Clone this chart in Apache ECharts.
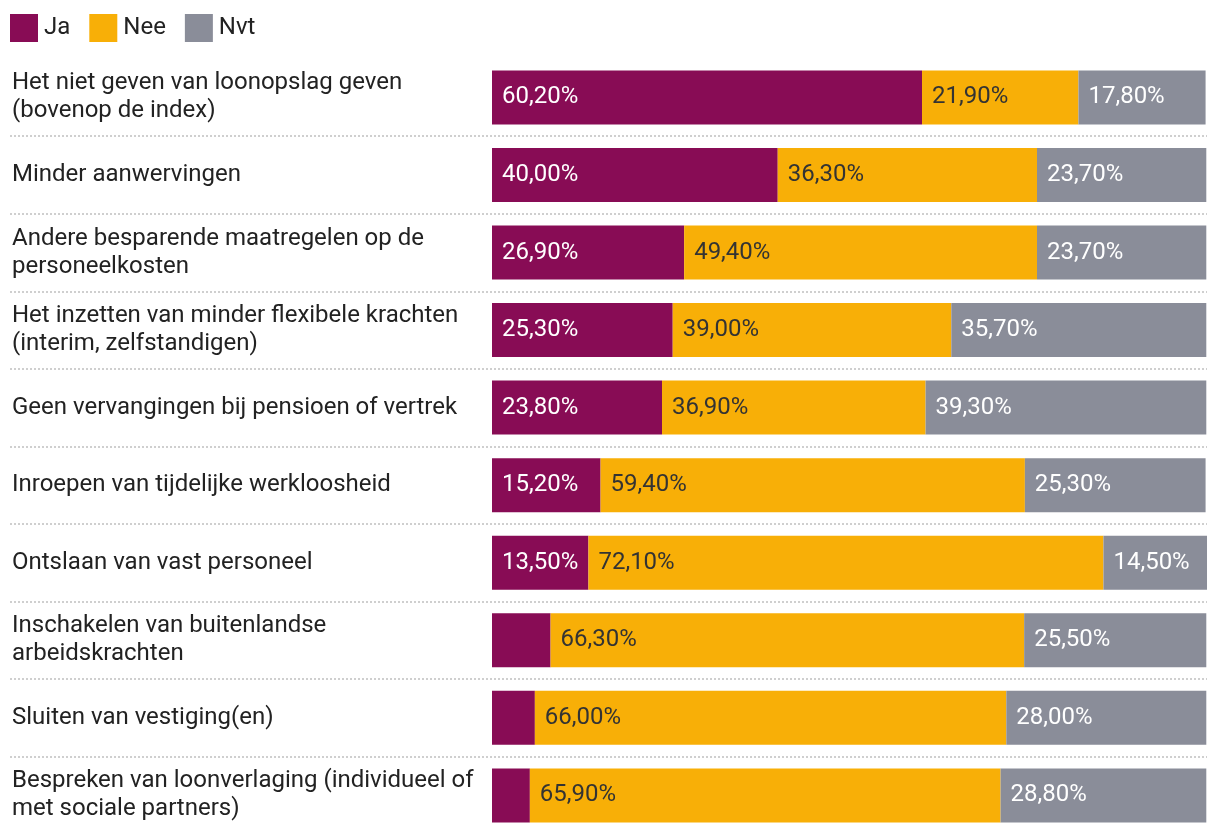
<!DOCTYPE html>
<html>
<head>
<meta charset="utf-8">
<script src="https://cdn.jsdelivr.net/npm/echarts@6/dist/echarts.min.js"></script>
<style>
html,body{margin:0;padding:0;background:#fff;}
#chart{width:1220px;height:836px;}
</style>
</head>
<body>
<div id="chart"></div>
<script>
const categories = [
  "Het niet geven van loonopslag geven (bovenop de index)",
  "Minder aanwervingen",
  "Andere besparende maatregelen op de personeelkosten",
  "Het inzetten van minder flexibele krachten (interim, zelfstandigen)",
  "Geen vervangingen bij pensioen of vertrek",
  "Inroepen van tijdelijke werkloosheid",
  "Ontslaan van vast personeel",
  "Inschakelen van buitenlandse arbeidskrachten",
  "Sluiten van vestiging(en)",
  "Bespreken van loonverlaging (individueel of met sociale partners)"
];
const seriesNames = ["Ja", "Nee", "Nvt"];
const ja  = [60.2, 40.0, 26.9, 25.3, 23.8, 15.2, 13.5, 8.2, 6.0, 5.3];
const nee = [21.9, 36.3, 49.4, 39.0, 36.9, 59.4, 72.1, 66.3, 66.0, 65.9];
const nvt = [17.8, 23.7, 23.7, 35.7, 39.3, 25.3, 14.5, 25.5, 28.0, 28.8];

const colors = ["#880C55", "#F8AF07", "#8A8D99"];
const labelColors = ["#ffffff", "#333333", "#ffffff"];
const FONT = "Roboto";
const FS = 24;

const fmt = v => v.toFixed(2).replace(".", ",") + "%";

const GRID_TOP = 58.6, GRID_H = 775.6;

const seriesData = [ja, nee, nvt];
const series = seriesData.map((d, i) => ({
  name: seriesNames[i],
  type: "bar",
  stack: "total",
  xAxisIndex: 0,
  yAxisIndex: 0,
  barWidth: 54,
  clip: false,
  data: d,
  itemStyle: { color: colors[i] },
  label: {
    show: true,
    position: "insideLeft",
    distance: 10,
    fontFamily: FONT,
    fontSize: FS,
    color: labelColors[i],
    formatter: p => (p.value < 10 ? "" : fmt(p.value))
  },
  emphasis: { disabled: true }
}));

const chart = echarts.init(document.getElementById("chart"), null, { renderer: "canvas" });
chart.setOption({
  animation: false,
  backgroundColor: "#ffffff",
  textStyle: { fontFamily: FONT },
  legend: {
    left: 5,
    top: 9,
    itemWidth: 28,
    itemHeight: 28,
    itemGap: 19,
    icon: "rect",
    data: seriesNames,
    textStyle: { fontFamily: FONT, fontSize: FS, color: "#222", padding: [0, 0, 0, 1] }
  },
  grid: [
    { left: 492, width: 714.3, top: GRID_TOP, height: GRID_H, containLabel: false },
    { left: 10, right: 13, top: GRID_TOP, height: GRID_H, containLabel: false }
  ],
  xAxis: [
    { type: "value", gridIndex: 0, min: 0, max: 100, show: false },
    { type: "value", gridIndex: 1, min: 0, max: 100, show: false }
  ],
  yAxis: [
    {
      type: "category",
      gridIndex: 0,
      inverse: true,
      data: categories,
      axisLine: { show: false },
      axisTick: { show: false },
      splitLine: { show: false },
      axisLabel: {
        align: "left",
        margin: 480,
        width: 470,
        overflow: "break",
        lineHeight: 28,
        fontFamily: FONT,
        fontSize: FS,
        color: "#222"
      }
    },
    {
      type: "category",
      gridIndex: 1,
      inverse: true,
      data: categories,
      axisLine: { show: false },
      axisTick: { show: false },
      axisLabel: { show: false },
      splitLine: {
        show: true,
        showMinLine: false,
        showMaxLine: false,
        lineStyle: { color: "#cfcfcf", width: 2, type: [2, 2] }
      }
    }
  ],
  series: series
});
</script>
</body>
</html>
